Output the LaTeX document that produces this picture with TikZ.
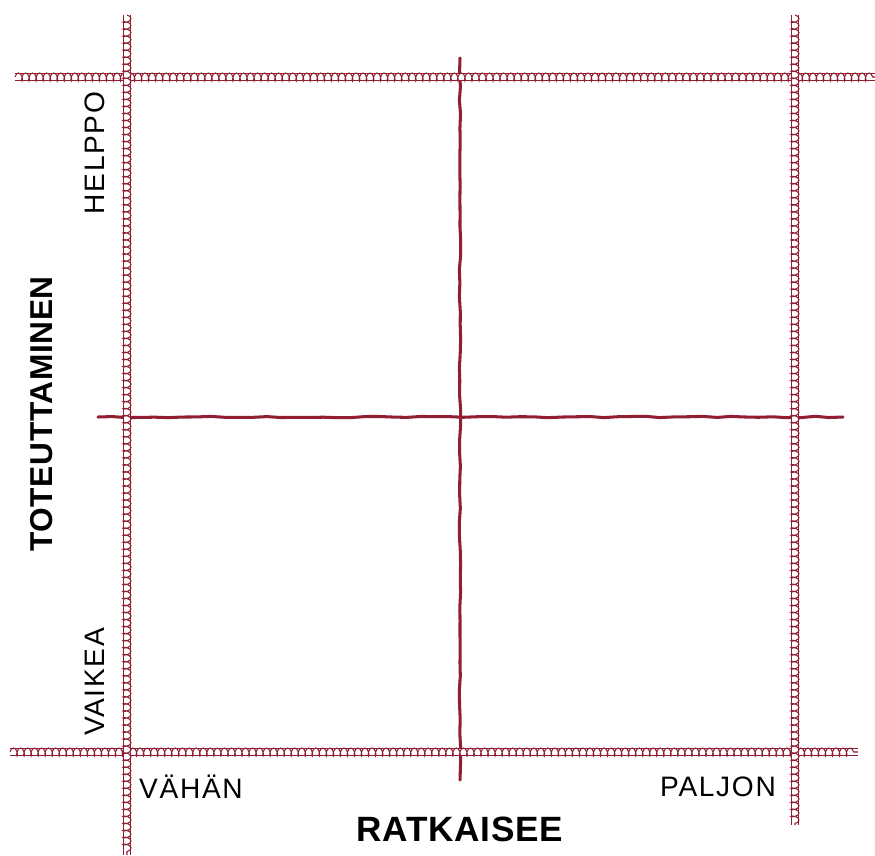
\documentclass[tikz,border=0pt]{standalone}
\usepackage{fontspec}
\setmainfont{Liberation Sans}
\newfontfamily\pienifontti[LetterSpace=6]{Liberation Sans}
\newfontfamily\isofontti[LetterSpace=2]{Liberation Sans}
\usetikzlibrary{decorations.pathmorphing}
\definecolor{viini}{RGB}{145,30,50}

\begin{document}
\begin{tikzpicture}[x=0.03cm, y=-0.03cm,
    reuna/.style={draw=viini, line width=0.7pt, double=white, double distance=5.5pt},
    silmukka/.style={draw=viini, line width=0.9pt, decorate,
        decoration={coil, amplitude=3.4pt, segment length=6pt, aspect=0.45}},
    jako/.style={draw=viini, line width=2.6pt, line cap=round, decorate,
        decoration={random steps, segment length=12pt, amplitude=0.6pt}},
    pieni/.style={font=\pienifontti\fontsize{24}{28}\selectfont},
    iso/.style={font=\isofontti\fontsize{30}{34}\selectfont\bfseries}]
    \useasboundingbox (0,0) rectangle (875,855);

    \coordinate (VY) at (127,15);
    \coordinate (VA) at (127,855);
    \coordinate (OY) at (795,15);
    \coordinate (OA) at (795,825);
    \coordinate (YV) at (15,77);
    \coordinate (YO) at (875,77);
    \coordinate (AV) at (10,752);
    \coordinate (AO) at (858,752);
    \coordinate (KY) at (460,58);
    \coordinate (KA) at (460,780);
    \coordinate (KV) at (98,417);
    \coordinate (KO) at (843,417);

    % keskiristi
    \draw[jako] (KV) -- (KO);
    \draw[jako] (KY) -- (KA);

    % reunat
    \foreach \a/\b in {YV/YO, AV/AO, VY/VA, OY/OA} {
        \draw[reuna] (\a) -- (\b);
        \draw[silmukka] (\a) -- (\b);
    }

    \node[pieni, rotate=90] (helppo) at (95,153) {HELPPO};
    \node[pieni, rotate=90] (vaikea) at (95,682) {VAIKEA};
    \node[iso, font=\isofontti\fontsize{27}{31}\selectfont\bfseries, rotate=90]
        (toteutus) at (42,414) {TOTEUTTAMINEN};
    \node[pieni] (vahan) at (191,787) {VÄHÄN};
    \node[pieni] (paljon) at (718,787) {PALJON};
    \node[iso] (ratkaisee) at (460,829) {RATKAISEE};
\end{tikzpicture}
\end{document}
